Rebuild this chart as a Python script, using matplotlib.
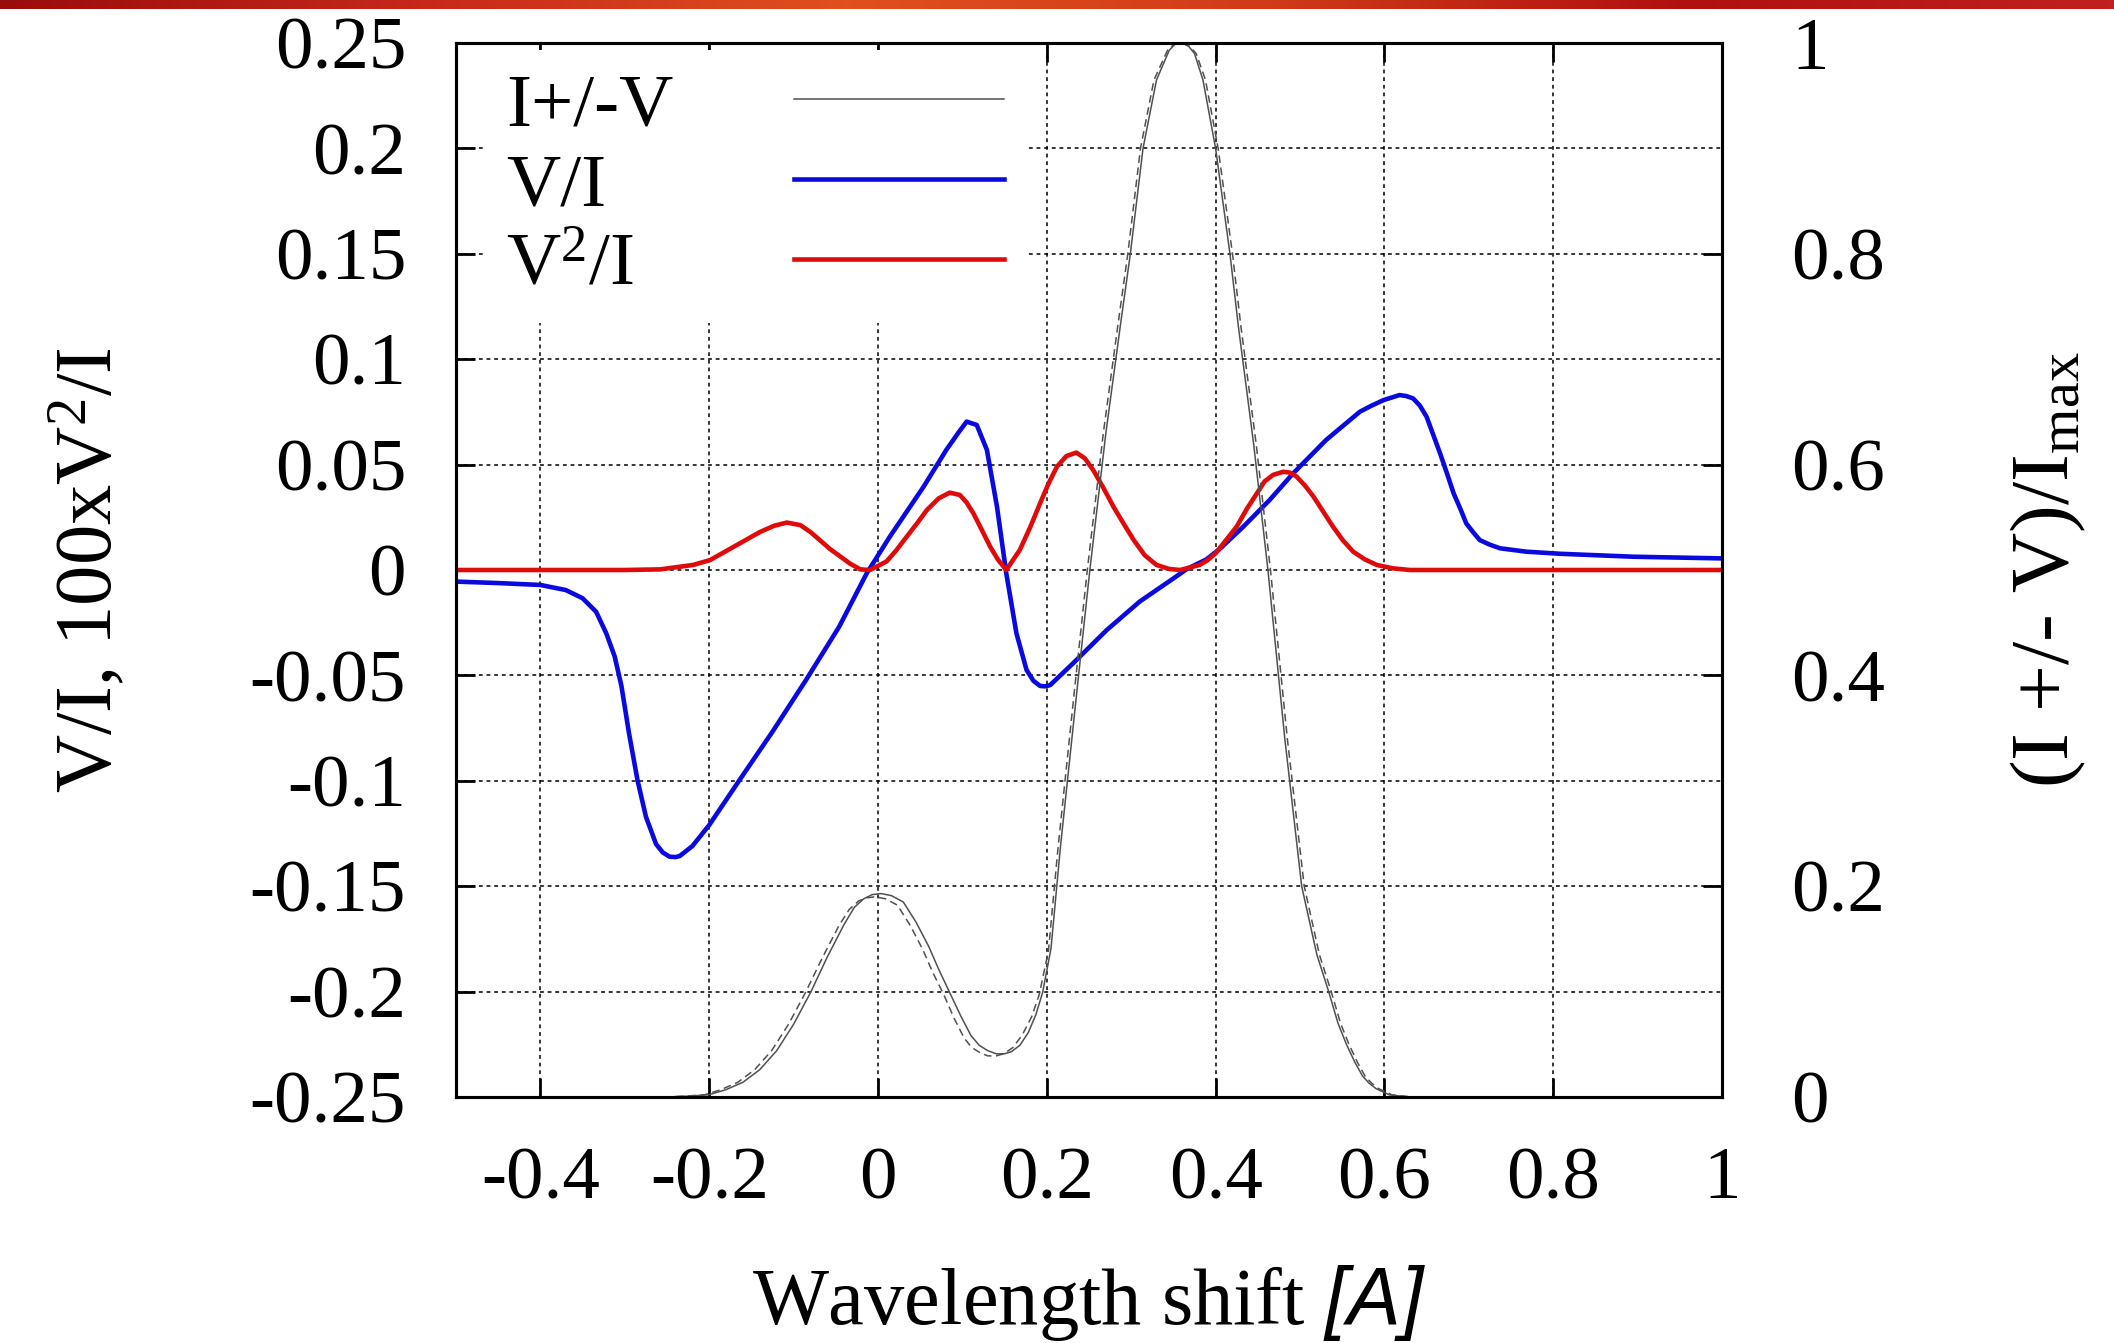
import numpy as np
import matplotlib.pyplot as plt
from matplotlib.colors import LinearSegmentedColormap

plt.rcParams['font.family'] = ['Liberation Serif', 'DejaVu Serif']
plt.rcParams['mathtext.fontset'] = 'custom'
plt.rcParams['mathtext.rm'] = 'Liberation Sans:italic'
plt.rcParams['mathtext.it'] = 'Liberation Sans:italic'

# V/I (left axis)
vi_x = [-0.5, -0.45, -0.4, -0.37, -0.35, -0.334, -0.322, -0.312, -0.304, -0.295,
        -0.285, -0.275, -0.263, -0.255, -0.247, -0.24, -0.235, -0.22, -0.2, -0.164,
        -0.125, -0.085, -0.046, -0.0134, 0.014, 0.054, 0.081, 0.095, 0.105, 0.117,
        0.129, 0.141, 0.152, 0.164, 0.176, 0.184, 0.192, 0.198, 0.204, 0.231,
        0.271, 0.31, 0.35, 0.366, 0.389, 0.405, 0.433, 0.464, 0.492, 0.531,
        0.571, 0.585, 0.599, 0.618, 0.626, 0.634, 0.642, 0.65, 0.658, 0.666,
        0.674, 0.682, 0.69, 0.697, 0.705, 0.713, 0.725, 0.737, 0.768, 0.808,
        0.895, 1.0]
vi_y = [-0.0055, -0.0062, -0.0071, -0.0095, -0.0134, -0.0198, -0.030, -0.041, -0.055, -0.0775,
        -0.0996, -0.117, -0.130, -0.134, -0.136, -0.1362, -0.1357, -0.131, -0.121, -0.0996,
        -0.0767, -0.052, -0.0269, -0.0016, 0.0158, 0.0395, 0.057, 0.065, 0.0704, 0.0688,
        0.057, 0.030, -0.0016, -0.030, -0.0474, -0.0525, -0.055, -0.0552, -0.0546, -0.0443,
        -0.0285, -0.015, -0.004, 0.0005, 0.005, 0.010, 0.0206, 0.0332, 0.0459, 0.0617,
        0.0751, 0.078, 0.0806, 0.083, 0.0825, 0.0814, 0.078, 0.0727, 0.064, 0.0553,
        0.046, 0.0364, 0.029, 0.0221, 0.018, 0.0142, 0.012, 0.0103, 0.0087, 0.0077,
        0.0063, 0.0055]

# 100 x V^2/I (left axis)
v2i_x = [-0.5, -0.3, -0.258, -0.219, -0.199, -0.171, -0.14, -0.123, -0.108, -0.092,
         -0.08, -0.069, -0.057, -0.045, -0.033, -0.021, -0.0095, 0.01, 0.022, 0.034,
         0.046, 0.058, 0.072, 0.085, 0.097, 0.105, 0.113, 0.123, 0.133, 0.142,
         0.152, 0.168, 0.18, 0.192, 0.202, 0.212, 0.223, 0.235, 0.245, 0.255,
         0.267, 0.279, 0.291, 0.303, 0.316, 0.33, 0.345, 0.358, 0.381, 0.39,
         0.4, 0.412, 0.425, 0.437, 0.449, 0.458, 0.468, 0.48, 0.488, 0.496,
         0.506, 0.516, 0.527, 0.539, 0.551, 0.563, 0.577, 0.591, 0.61, 0.63,
         1.0]
v2i_y = [0, 0, 0.0003, 0.0024, 0.0047, 0.011, 0.018, 0.021, 0.0225, 0.0213,
         0.018, 0.0142, 0.010, 0.0065, 0.003, 0.0003, 0, 0.004, 0.0095, 0.0158,
         0.022, 0.0285, 0.034, 0.0367, 0.0356, 0.032, 0.0269, 0.019, 0.011, 0.005,
         0, 0.0095, 0.020, 0.0316, 0.041, 0.049, 0.054, 0.0557, 0.053, 0.0474,
         0.039, 0.030, 0.022, 0.0142, 0.007, 0.0024, 0.0005, 0, 0.0024, 0.0045,
         0.0079, 0.014, 0.0206, 0.029, 0.0364, 0.042, 0.0451, 0.0466, 0.0462, 0.0443,
         0.040, 0.0348, 0.028, 0.0206, 0.014, 0.0087, 0.005, 0.0024, 0.0008, 0,
         0]

# (I+V)/Imax and (I-V)/Imax (right axis)
ipv_x = [-0.5, -0.25, -0.22, -0.2, -0.18, -0.16, -0.14, -0.12, -0.10, -0.08,
         -0.06, -0.04, -0.028, -0.017, -0.007, 0.004, 0.016, 0.03, 0.045, 0.06,
         0.072, 0.085, 0.098, 0.11, 0.12, 0.13, 0.14, 0.15, 0.158, 0.168,
         0.178, 0.187, 0.195, 0.205, 0.216, 0.235, 0.251, 0.27, 0.287, 0.299,
         0.314, 0.33, 0.345, 0.352, 0.36, 0.368, 0.375, 0.385, 0.4, 0.417,
         0.427, 0.445, 0.462, 0.482, 0.502, 0.52, 0.534, 0.545, 0.555, 0.565,
         0.574, 0.582, 0.59, 0.606, 0.63, 1.0]
ipv_y = [0, 0, 0.001, 0.0022, 0.007, 0.014, 0.026, 0.044, 0.069, 0.099,
         0.133, 0.164, 0.180, 0.188, 0.192, 0.193, 0.191, 0.185, 0.166, 0.143,
         0.121, 0.099, 0.077, 0.0585, 0.049, 0.044, 0.041, 0.041, 0.043, 0.049,
         0.061, 0.078, 0.099, 0.141, 0.236, 0.38, 0.5, 0.63, 0.731, 0.8,
         0.9, 0.965, 0.993, 0.999, 1.0, 0.997, 0.99, 0.965, 0.9, 0.8,
         0.731, 0.62, 0.5, 0.34, 0.2, 0.135, 0.1, 0.07, 0.05, 0.033,
         0.02, 0.013, 0.008, 0.002, 0, 0]
imv_x = [-0.5, -0.25, -0.225, -0.205, -0.186, -0.166, -0.146, -0.126, -0.106, -0.086,
         -0.066, -0.046, -0.034, -0.023, -0.013, -0.003, 0.009, 0.023, 0.038, 0.053,
         0.065, 0.078, 0.09, 0.102, 0.111, 0.121, 0.13, 0.14, 0.149, 0.16,
         0.171, 0.182, 0.191, 0.202, 0.213, 0.232, 0.248, 0.267, 0.284, 0.296,
         0.311, 0.327, 0.343, 0.351, 0.36, 0.369, 0.377, 0.388, 0.403, 0.42,
         0.43, 0.448, 0.465, 0.485, 0.505, 0.523, 0.537, 0.548, 0.558, 0.568,
         0.577, 0.585, 0.593, 0.609, 0.633, 1.0]
imv_y = [0, 0, 0.001, 0.0022, 0.007, 0.014, 0.026, 0.044, 0.069, 0.099,
         0.132, 0.163, 0.178, 0.186, 0.189, 0.19, 0.188, 0.182, 0.163, 0.14,
         0.118, 0.097, 0.075, 0.056, 0.047, 0.042, 0.039, 0.039, 0.041, 0.047,
         0.059, 0.076, 0.097, 0.139, 0.234, 0.38, 0.5, 0.63, 0.731, 0.8,
         0.9, 0.965, 0.993, 0.999, 1.0, 0.997, 0.99, 0.965, 0.9, 0.8,
         0.731, 0.62, 0.5, 0.34, 0.2, 0.135, 0.1, 0.07, 0.05, 0.033,
         0.02, 0.013, 0.008, 0.002, 0, 0]

x_ticks = [-0.4, -0.2, 0, 0.2, 0.4, 0.6, 0.8, 1.0]
x_ticklabels = ['-0.4', '-0.2', '0', '0.2', '0.4', '0.6', '0.8', '1']
y_ticks = [-0.25, -0.2, -0.15, -0.1, -0.05, 0, 0.05, 0.1, 0.15, 0.2, 0.25]
y_ticklabels = ['-0.25', '-0.2', '-0.15', '-0.1', '-0.05', '0', '0.05', '0.1', '0.15', '0.2', '0.25']
y2_ticks = [0, 0.2, 0.4, 0.6, 0.8, 1.0]
y2_ticklabels = ['0', '0.2', '0.4', '0.6', '0.8', '1']
labels = ['I+/-V', 'V/I', r'V$\mathregular{^2}$/I']
bar_colors = ['#9a0c0c', '#c8281a', '#e0501e', '#d23a18', '#b01010', '#c02020']

fs = 54
fig = plt.figure(figsize=(21.14, 13.43), dpi=100)

# header bar
bar = fig.add_axes([0, 1 - 9 / 1343, 1, 9 / 1343])
bar.imshow(np.linspace(0, 1, 256)[None, :], aspect='auto',
           cmap=LinearSegmentedColormap.from_list('hdr', bar_colors))
bar.axis('off')

ax = fig.add_axes([456 / 2114, 1 - 1097 / 1343, 1266 / 2114, 1054 / 1343])
ax2 = ax.twinx()

l_vi, = ax.plot(vi_x, vi_y, color='#0a0ae0', lw=3.3, zorder=3, solid_joinstyle='round')
l_v2, = ax.plot(v2i_x, v2i_y, color='#e00a0a', lw=3.3, zorder=3, solid_joinstyle='round')
l_ip, = ax2.plot(ipv_x, ipv_y, color='#505050', lw=1.1)
ax2.plot(imv_x, imv_y, color='#505050', lw=1.1, ls=(0, (5, 3)))

ax.set_xlim(-0.5, 1)
ax.set_ylim(-0.25, 0.25)
ax2.set_ylim(0, 1)

ax.set_xticks(x_ticks, x_ticklabels)
ax.set_yticks(y_ticks, y_ticklabels)
ax2.set_yticks(y2_ticks, y2_ticklabels)

ax.grid(True, color='black', lw=1.1, ls=(0, (2.5, 2.5)))
ax.tick_params(axis='x', direction='in', top=True, length=14, width=2, labelsize=fs, pad=36)
ax.tick_params(axis='y', direction='in', right=False, length=14, width=2, labelsize=fs, pad=36)
ax2.tick_params(axis='y', direction='in', length=14, width=2, labelsize=fs, pad=50)
for a in (ax, ax2):
    for s in a.spines.values():
        s.set_linewidth(2.2)

ax.set_xlabel(r'Wavelength shift $\mathit{[A]}$', fontsize=58, va='center')
ax.xaxis.set_label_coords(0.5, -0.195)
ax.set_ylabel(r'V/I, 100xV$\mathregular{^2}$/I', fontsize=58, va='center')
ax.yaxis.set_label_coords(-0.29, 0.5)
ax2.set_ylabel(r'(I +/- V)/I$\mathregular{_{max}}$', fontsize=60, va='center', rotation=90)
ax2.yaxis.set_label_coords(1.258, 0.5)

leg = ax2.legend([l_ip, l_vi, l_v2], labels, loc='upper left', bbox_to_anchor=(0.022, 0.993),
                 borderaxespad=0, borderpad=0.3, fontsize=fs, markerfirst=False,
                 handlelength=2.8, handletextpad=1.6, labelspacing=0.15,
                 frameon=True, fancybox=False, framealpha=1, facecolor='white', edgecolor='none')

# left-align the legend labels while keeping the sample lines aligned
fig.canvas.draw()
r = fig.canvas.get_renderer()
col = leg._legend_handle_box.get_children()[0]
col.align = 'left'
widths = [t.get_window_extent(r).width for t in leg.get_texts()]
for box, w in zip(col.get_children(), widths):
    box.sep = box.sep + (max(widths) - w) * 72 / fig.dpi

fig.savefig('out.png', dpi=100)
